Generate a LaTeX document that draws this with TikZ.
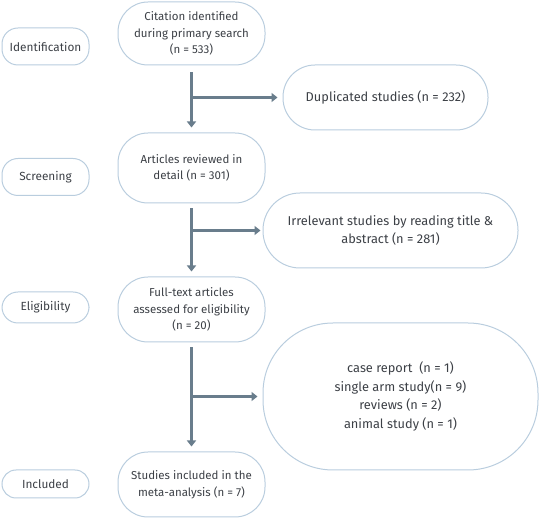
\documentclass[tikz,border=0pt]{standalone}
\usepackage{fontspec}
\setmainfont{Fira Sans}
\usetikzlibrary{arrows.meta}

\definecolor{boxline}{RGB}{185,205,222}
\definecolor{arrowgrey}{RGB}{105,125,140}
\definecolor{textgrey}{RGB}{60,64,70}

\tikzset{
  phasebox/.style={draw=boxline, line width=1pt, rounded corners=16pt,
    minimum width=87pt, text=textgrey, font=\fontsize{11.8}{14}\selectfont},
  flowbox/.style={draw=boxline, line width=1pt, rounded corners=30pt,
    minimum width=147pt, minimum height=65pt, align=center, text=textgrey,
    font=\fontsize{11.5}{16.5}\selectfont},
  exclbox/.style={flowbox, font=\fontsize{12.8}{18.5}\selectfont},
  arr/.style={draw=arrowgrey, line width=2.8pt,
    -{Triangle[width=9pt,length=6pt]}}
}

\begin{document}
\begin{tikzpicture}[x=1pt,y=-1pt]
  \useasboundingbox (0,0) rectangle (539,518);

  % 1. Phase labels on the left
  \node[phasebox, minimum height=37pt] (ident) at (45.5,46.5) {Identification};
  \node[phasebox, minimum height=37pt] (screen) at (45.5,177) {Screening};
  \node[phasebox, minimum height=31pt] (elig) at (45.5,307.5) {Eligibility};
  \node[phasebox, minimum height=28pt, rounded corners=14pt] (incl) at (45.5,484) {Included};

  % 2. Main column
  \node[flowbox, minimum height=63pt] (cit) at (191.5,33.5)
    {Citation identified\\during primary search\\(n = 533)};
  \node[flowbox, minimum height=70pt] (rev) at (191.5,168)
    {Articles reviewed in\\detail (n = 301)};
  \node[flowbox] (full) at (191.5,309.5)
    {Full-text articles\\assessed for eligibility\\(n = 20)};
  \node[flowbox] (stud) at (191.5,484.5)
    {Studies included in the\\meta-analysis (n = 7)};

  % 3. Excluded records on the right
  \node[exclbox, minimum width=205pt, rounded corners=32pt] (dup) at (385.5,97.5)
    {Duplicated studies (n = 232)};
  \node[exclbox, minimum width=255pt, minimum height=75pt, rounded corners=37pt] (irr) at (390.5,230.5)
    {Irrelevant studies by reading title \&\\abstract (n = 281)};
  \node[exclbox, minimum width=275pt, minimum height=147pt, rounded corners=70pt] (excl) at (400.5,396.5)
    {case report~ (n = 1)\\single arm study(n = 9)\\reviews (n = 2)\\animal study (n = 1)};

  % 4. Arrows down the column
  \draw[arr, shorten <=7pt, shorten >=5pt] (cit) -- (rev);
  \draw[arr, shorten <=5pt, shorten >=5pt] (rev) -- (full);
  \draw[arr, shorten <=5pt, shorten >=5pt] (full) -- (stud);

  % 5. Branches to the excluded boxes
  \draw[arr, shorten >=5pt] ([xshift=-1.4pt]cit.south |- dup.west) -- (dup.west);
  \draw[arr, shorten >=2pt] ([xshift=-1.4pt]rev.south |- irr.west) -- (irr.west);
  \draw[arr, shorten >=5pt] ([xshift=-1.4pt]full.south |- excl.west) -- (excl.west);

\end{tikzpicture}
\end{document}
